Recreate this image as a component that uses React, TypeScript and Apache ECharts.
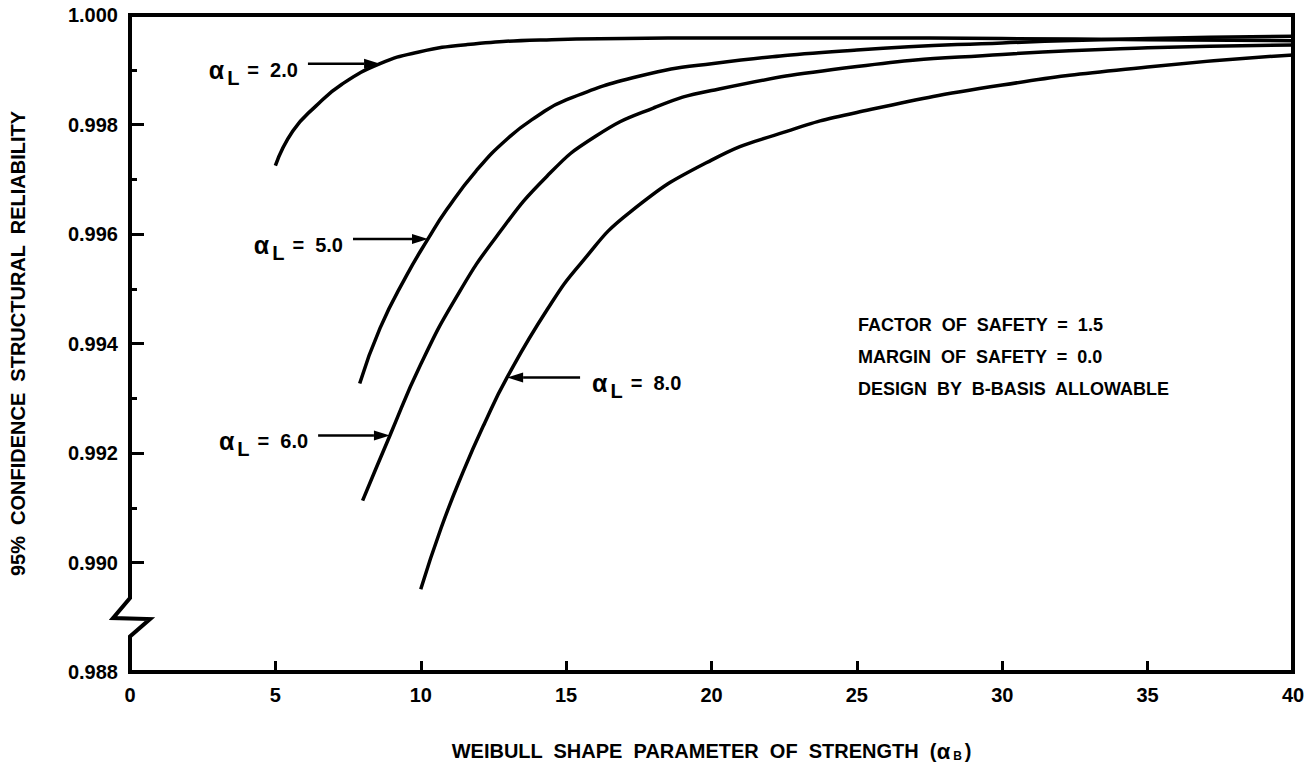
import React, { useEffect, useRef } from "react";
import * as echarts from "echarts";

// Weibull shape parameter of strength (x) and 95% confidence structural reliability (y)
const xAlpha2 = [5, 5.6, 6.4, 7.3, 8.6, 9.9, 11.6, 14.5, 17, 20, 25, 30, 35, 40];
const yAlpha2 = [0.99725, 0.99788, 0.99834, 0.99874, 0.99911, 0.99932, 0.99946, 0.99955, 0.99957, 0.99958, 0.99958, 0.99957, 0.99955, 0.99953];

const xAlpha5 = [7.9, 8.6, 9.5, 10.25, 10.9, 11.9, 13, 14, 15, 17.5, 20, 25, 30, 35, 40];
const yAlpha5 = [0.99327, 0.99428, 0.99523, 0.99591, 0.99645, 0.99715, 0.99775, 0.99815, 0.99845, 0.99888, 0.99911, 0.99936, 0.99949, 0.99957, 0.99961];

const xAlpha6 = [8, 8.94, 10, 11.25, 12.6, 14.35, 16, 18, 20, 25, 30, 35, 40];
const yAlpha6 = [0.99113, 0.99232, 0.99362, 0.99487, 0.99595, 0.99706, 0.99778, 0.9983, 0.99862, 0.99906, 0.99928, 0.9994, 0.99945];

const xAlpha8 = [10, 10.7, 11.46, 12.2, 12.97, 14.35, 15.5, 17.2, 20, 22.5, 25, 30, 35, 40];
const yAlpha8 = [0.98951, 0.99063, 0.99166, 0.99255, 0.99338, 0.99462, 0.99546, 0.9964, 0.99735, 0.99786, 0.99822, 0.99872, 0.99905, 0.99927];

const curveNames = ["2.0", "5.0", "6.0", "8.0"];

// arrow annotations: tip on curve (data), tail x (data)
const arrowTipX = [8.6, 10.25, 8.94, 12.97];
const arrowTipY = [0.99911, 0.99591, 0.99232, 0.99338];
const arrowTailX = [6.12, 7.67, 6.47, 15.48];

const noteLines = ["FACTOR  OF  SAFETY  =  1.5", "MARGIN  OF  SAFETY  =  0.0", "DESIGN  BY  B-BASIS  ALLOWABLE"];

const FONT = "'Liberation Sans', Arial, Helvetica, sans-serif";

function zip(xs: number[], ys: number[]) {
  return xs.map((x, i) => [x, ys[i]]);
}

export default function App() {
  const ref = useRef<HTMLDivElement>(null);
  useEffect(() => {
    document.body.style.margin = "0";
    const chart = echarts.init(ref.current!, undefined, { renderer: "svg" });
    const seriesData = [zip(xAlpha2, yAlpha2), zip(xAlpha5, yAlpha5), zip(xAlpha6, yAlpha6), zip(xAlpha8, yAlpha8)];
    chart.setOption({
      animation: false,
      backgroundColor: "#fff",
      grid: { left: 130, top: 15, right: 22, bottom: 85, show: true, borderColor: "#000", borderWidth: 4, backgroundColor: "transparent" },
      xAxis: {
        type: "value",
        min: 0,
        max: 40,
        interval: 5,
        axisLine: { show: false },
        axisTick: { show: true, inside: true, length: 11, lineStyle: { color: "#000", width: 3 } },
        splitLine: { show: false },
        axisLabel: { color: "#000", fontFamily: FONT, fontWeight: "bold", fontSize: 20, margin: 13 },
        name: "WEIBULL  SHAPE  PARAMETER  OF  STRENGTH  ({a|α}{s|B})",
        nameLocation: "middle",
        nameGap: 68,
        nameTextStyle: {
          color: "#000",
          fontFamily: FONT,
          fontWeight: "bold",
          fontSize: 20,
          rich: {
            a: { fontFamily: FONT, fontWeight: "bold", fontSize: 22, color: "#000" },
            s: { fontFamily: FONT, fontWeight: "bold", fontSize: 12, color: "#000", padding: [10, 3, 0, 3] },
          },
        },
      },
      yAxis: {
        type: "value",
        min: 0.988,
        max: 1.0,
        interval: 0.002,
        axisLine: { show: false },
        axisTick: { show: true, inside: true, length: 14, lineStyle: { color: "#000", width: 3 } },
        minorTick: { show: true, splitNumber: 2, length: 7, lineStyle: { color: "#000", width: 3 } },
        splitLine: { show: false },
        minorSplitLine: { show: false },
        axisLabel: {
          color: "#000",
          fontFamily: FONT,
          fontWeight: "bold",
          fontSize: 20,
          margin: 12,
          formatter: (v: number) => v.toFixed(3),
        },
        name: "95%  CONFIDENCE  STRUCTURAL  RELIABILITY",
        nameLocation: "middle",
        nameGap: 102,
        nameTextStyle: { color: "#000", fontFamily: FONT, fontWeight: "bold", fontSize: 20 },
      },
      series: seriesData.map((d, i) => ({
        name: "αL = " + curveNames[i],
        type: "line",
        data: d,
        showSymbol: false,
        symbol: "none",
        smooth: 0.5,
        lineStyle: { color: "#000", width: 3.5 },
        z: 3,
      })),
    });

    const px = (x: number, y: number) => chart.convertToPixel({ gridIndex: 0 }, [x, y]) as number[];
    const graphics: any[] = [];
    const alphaRich = {
      a: { fontFamily: FONT, fontWeight: "bold", fontSize: 25, fill: "#000", padding: [0, 3, 0, 0] },
      l: { fontFamily: FONT, fontWeight: "bold", fontSize: 20, fill: "#000", padding: [16, 8, 0, 0] },
      t: { fontFamily: FONT, fontWeight: "bold", fontSize: 20, fill: "#000" },
    };
    for (let i = 0; i < curveNames.length; i++) {
      const tip = px(arrowTipX[i], arrowTipY[i]);
      const tail = px(arrowTailX[i], arrowTipY[i]);
      const dir = tail[0] < tip[0] ? 1 : -1;
      const headLen = 16;
      graphics.push({
        type: "line",
        z: 50,
        shape: { x1: tail[0], y1: tip[1], x2: tip[0] - dir * headLen, y2: tip[1] },
        style: { stroke: "#000", lineWidth: 2.5 },
      });
      graphics.push({
        type: "polygon",
        z: 50,
        shape: {
          points: [
            [tip[0], tip[1]],
            [tip[0] - dir * headLen, tip[1] - 5],
            [tip[0] - dir * headLen, tip[1] + 5],
          ],
        },
        style: { fill: "#000" },
      });
      graphics.push({
        type: "text",
        z: 50,
        x: dir === 1 ? tail[0] - 10 : tail[0] + 12,
        y: tip[1] + 6,
        style: {
          text: "{a|α}{l|L}{t|=  " + curveNames[i] + "}",
          align: dir === 1 ? "right" : "left",
          verticalAlign: "middle",
          rich: alphaRich,
          fill: "#000",
        },
      });
    }

    noteLines.forEach((t, i) => {
      graphics.push({
        type: "text",
        z: 50,
        x: 858,
        y: 325 + i * 32,
        style: { text: t, fontFamily: FONT, fontWeight: "bold", fontSize: 18, fill: "#000", align: "left", verticalAlign: "middle" },
      });
    });

    // axis break on the y axis
    const bTop = px(0, 0.98935);
    const bBot = px(0, 0.98865);
    const ax = bTop[0];
    graphics.push({
      type: "rect",
      z: 60,
      shape: { x: ax - 20, y: bTop[1], width: 40, height: bBot[1] - bTop[1] },
      style: { fill: "#fff" },
    });
    graphics.push({
      type: "polyline",
      z: 61,
      shape: {
        points: [
          [ax, bTop[1] - 2],
          [ax, bTop[1]],
          [ax - 17, bTop[1] + 20],
          [ax + 20, bTop[1] + 21],
          [ax, bBot[1]],
          [ax, bBot[1] + 2],
        ],
      },
      style: { stroke: "#000", lineWidth: 4, fill: "none", lineJoin: "miter" },
    });

    chart.setOption({ graphic: { elements: graphics } });
    return () => chart.dispose();
  }, []);
  return <div ref={ref} style={{ position: "absolute", left: 0, top: 0, width: 1315, height: 767 }} />;
}
